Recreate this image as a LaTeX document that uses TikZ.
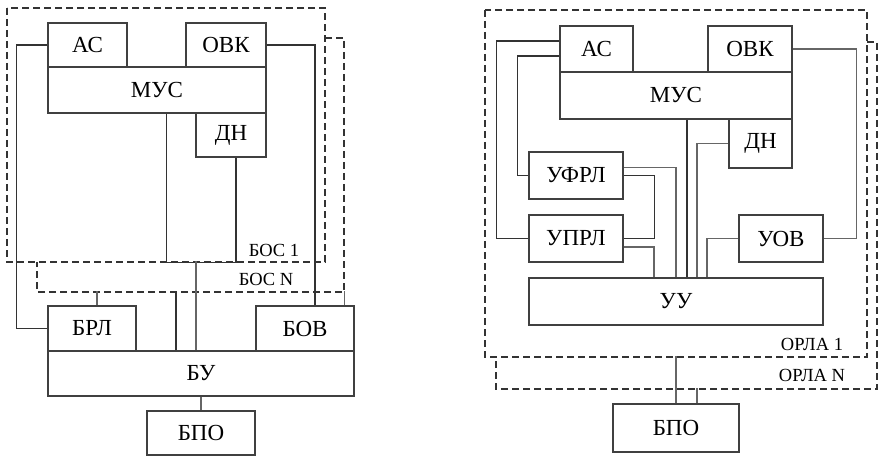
\documentclass[tikz,border=0pt]{standalone}
\usepackage{fontspec}
\setmainfont{Liberation Serif}
\usepackage{tikz}
\usetikzlibrary{positioning,calc}

\begin{document}
\begin{tikzpicture}[x=1pt, y=-1pt,
  blk/.style = {draw=black!75, line width=1.3pt, inner sep=0pt, minimum height=45pt,
                font=\fontsize{23}{27}\selectfont},
  wire/.style = {draw=black!80, line width=1.3pt},
  gwire/.style = {draw=black!60, line width=1.4pt},
  frame/.style = {draw=black!80, line width=2pt, dash pattern=on 7pt off 4pt},
  tag/.style = {font=\fontsize{18.5}{22}\selectfont, inner sep=0pt}]

\useasboundingbox (0,0) rectangle (886,465);

% left part
\draw[frame] (7,8) rectangle (325,262);
\draw[frame] (325,38) -- (344,38) -- (344,292) -- (37,292) -- (37,262);
\node[tag] (bos1) at (274,250) {БОС 1};
\node[tag] (bosn) at (266,279) {БОС N};

\node[blk, minimum width=79pt, minimum height=44pt] (ac) at (87.5,45) {АС};
\node[blk, minimum width=80pt, minimum height=44pt] (ovk) at (226,45) {ОВК};
\node[blk, minimum width=218pt, minimum height=46pt] (mus) at (157,90) {МУС};
\node[blk, minimum width=70pt, minimum height=44pt] (dn) at (231,135) {ДН};
\node[blk, minimum width=88pt] (brl) at (92,328.5) {БРЛ};
\node[blk, minimum width=98pt] (bov) at (305,328.5) {БОВ};
\node[blk, minimum width=306pt] (bu) at (201,373.5) {БУ};
\node[blk, minimum width=108pt, minimum height=44pt] (bpo) at (201,433) {БПО};

\draw[wire] (ac.west) -- ++(-31,0) |- (brl.west);
\draw[wire] (ovk.east) -| ($(bov.north)+(10,0)$);
\draw[wire] ($(mus.south west)+(119,0)$) -- ++(0,149) -| ($(dn.south)+(5,0)$);
\draw[gwire] ($(bu.north)+(-5,0)$) -- ++(0,-89);
\draw[wire] ($(bu.north)+(-25,0)$) -- ++(0,-59);
\draw[gwire] ($(brl.north)+(5,0)$) -- ++(0,-14);
\draw[gwire] ($(bov.north east)+(-10,0)$) -- ++(0,-14);
\draw[gwire] (bu.south) -- (bpo.north);

% right part
\draw[frame] (485,10) rectangle (867,357);
\draw[frame] (867,42) -- (877,42) -- (877,389) -- (496,389) -- (496,357);
\node[tag] (orla1) at (812,344) {ОРЛА 1};
\node[tag] (orlan) at (812,375) {ОРЛА N};

\node[blk, minimum width=73pt, minimum height=46pt] (ac2) at (596.5,49) {АС};
\node[blk, minimum width=84pt, minimum height=46pt] (ovk2) at (750,49) {ОВК};
\node[blk, minimum width=232pt, minimum height=47pt] (mus2) at (676,95.5) {МУС};
\node[blk, minimum width=63pt, minimum height=49pt] (dn2) at (760.5,143.5) {ДН};
\node[blk, minimum width=94pt, minimum height=47pt] (ufrl) at (576,175.5) {УФРЛ};
\node[blk, minimum width=94pt, minimum height=47pt] (uprl) at (576,238.5) {УПРЛ};
\node[blk, minimum width=84pt, minimum height=47pt] (uov) at (781,238.5) {УОВ};
\node[blk, minimum width=294pt, minimum height=47pt] (uu) at (676,301.5) {УУ};
\node[blk, minimum width=126pt, minimum height=48pt] (bpo2) at (676,428) {БПО};

\draw[wire] ($(ac2.west)+(0,-8)$) -| ($(uprl.west)+(-32,0)$) -- (uprl.west);
\draw[wire] ($(ac2.west)+(0,7)$) -| ($(ufrl.west)+(-11,0)$) -- (ufrl.west);
\draw[gwire] (ovk2.east) -| ($(uov.east)+(33,0)$) -- (uov.east);
\draw[wire] ($(mus2.south)+(11,0)$) -- ($(uu.north)+(11,0)$);
\draw[gwire] (dn2.west) -| ($(uu.north)+(21,0)$);
\draw[gwire] ($(ufrl.east)+(0,-8)$) -| (uu.north);
\draw[wire] (ufrl.east) -| ($(uprl.east)+(31,0)$) -- (uprl.east);
\draw[gwire] ($(uprl.east)+(0,8.5)$) -| ($(uu.north)+(-22,0)$);
\draw[gwire] (uov.west) -| ($(uu.north)+(31,0)$);
\draw[gwire] (bpo2.north) -- ++(0,-47);
\draw[gwire] ($(bpo2.north)+(21,0)$) -- ++(0,-15);

\end{tikzpicture}
\end{document}
